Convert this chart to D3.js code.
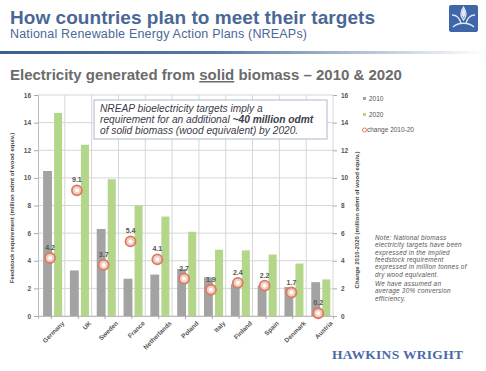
<!DOCTYPE html>
<html><head><meta charset="utf-8">
<script src="https://cdn.jsdelivr.net/npm/d3@7"></script>
<style>body{margin:0;background:#fff;}svg{display:block;font-family:"Liberation Sans",Arial,sans-serif;}</style>
</head><body>
<svg id="c" width="486" height="371"></svg>
<script>
const countries = ["Germany","UK","Sweden","France","Netherlands","Poland","Italy","Finland","Spain","Denmark","Austria"];
const values2010 = [10.5,3.3,6.3,2.7,3.0,3.4,2.8,2.3,2.2,2.1,2.45];
const values2020 = [14.7,12.4,9.9,8.0,7.2,6.1,4.8,4.75,4.45,3.8,2.65];
const change = [4.2,9.1,3.7,5.4,4.1,2.7,1.9,2.4,2.2,1.7,0.2];
const yTicks = [0,2,4,6,8,10,12,14,16];

const svg = d3.select("#c");
const x = d3.scaleBand().domain(countries).range([38,333]).padding(0);
const y = d3.scaleLinear().domain([0,16]).range([316,95]);
const y2 = d3.scaleLinear().domain([0,16]).range([316,95]);

// header
svg.append("text").attr("x",10).attr("y",24).attr("font-size",19).attr("font-weight","bold")
  .attr("fill","#4a6796").attr("textLength",365).text("How countries plan to meet their targets");
svg.append("text").attr("x",10).attr("y",38).attr("font-size",12.5)
  .attr("fill","#4a6796").attr("textLength",297).text("National Renewable Energy Action Plans (NREAPs)");
const defs = svg.append("defs");
const lg = defs.append("linearGradient").attr("id","rule");
lg.append("stop").attr("offset","0%").attr("stop-color","#3b5f90");
lg.append("stop").attr("offset","45%").attr("stop-color","#5a7aa5");
lg.append("stop").attr("offset","100%").attr("stop-color","#ffffff");
svg.append("rect").attr("x",0).attr("y",51).attr("width",486).attr("height",3).attr("fill","url(#rule)");

// logo
const logo = svg.append("g").attr("transform","translate(449,5)");
logo.append("rect").attr("width",29).attr("height",27).attr("rx",2).attr("fill","#3f66a8");
logo.append("path").attr("d","M14.5,2 C11,7 11,11 14.5,15 C18,11 18,7 14.5,2 Z M3,10 C8,10 11,14 12,19 M26,10 C21,10 18,14 17,19 M4,22 C9,17 20,17 25,22")
  .attr("fill","none").attr("stroke","#dfe8f5").attr("stroke-width",1.3);
logo.append("path").attr("d","M14.5,3 C12,7 12,10 14.5,13 C17,10 17,7 14.5,3 Z").attr("fill","#dfe8f5");

// chart title
const ct = svg.append("text").attr("x",10).attr("y",80).attr("font-size",15).attr("font-weight","bold").attr("fill","#6b6b6b");
ct.append("tspan").text("Electricity generated from ");
ct.append("tspan").attr("text-decoration","underline").text("solid");
ct.append("tspan").text(" biomass \u2013 2010 & 2020");

// grid
const g = svg.append("g");
g.selectAll("line.h").data(yTicks).join("line")
  .attr("x1",38).attr("x2",333).attr("y1",d=>y(d)).attr("y2",d=>y(d))
  .attr("stroke","#d6d6d6").attr("stroke-width",1);
g.selectAll("line.v").data(countries).join("line")
  .attr("x1",d=>x(d)+x.bandwidth()).attr("x2",d=>x(d)+x.bandwidth())
  .attr("y1",y(16)).attr("y2",y(0)).attr("stroke","#d6d6d6");

// bars
const bw = x.bandwidth();
svg.append("g").selectAll("rect").data(countries).join("rect")
  .attr("x",d=>x(d)+bw*0.19).attr("width",bw*0.33)
  .attr("y",(d,i)=>y(values2010[i])).attr("height",(d,i)=>y(0)-y(values2010[i]))
  .attr("fill","#a3a3a3");
svg.append("g").selectAll("rect").data(countries).join("rect")
  .attr("x",d=>x(d)+bw*0.6).attr("width",bw*0.3)
  .attr("y",(d,i)=>y(values2020[i])).attr("height",(d,i)=>y(0)-y(values2020[i]))
  .attr("fill","#b4d68a");

// axes
const yAxisL = d3.axisLeft(y).tickValues(yTicks).tickSize(4).tickFormat(d3.format("d"));
const aL = svg.append("g").attr("transform","translate(38,0)").call(yAxisL);
aL.select(".domain").attr("stroke","#bbb");
aL.selectAll(".tick line").attr("stroke","#aaa");
aL.selectAll("text").attr("font-size",6.5).attr("font-weight","bold").attr("fill","#555");
const yAxisR = d3.axisRight(y2).tickValues(yTicks).tickSize(4).tickFormat(d3.format("d"));
const aR = svg.append("g").attr("transform","translate(333,0)").call(yAxisR);
aR.select(".domain").attr("stroke","none");
aR.selectAll(".tick line").attr("stroke","#aaa");
aR.selectAll("text").attr("font-size",6.5).attr("font-weight","bold").attr("fill","#555").attr("x",8);

const xAxis = d3.axisBottom(x).tickSize(3);
const aX = svg.append("g").attr("transform","translate(0,316)").call(xAxis);
aX.select(".domain").attr("stroke","#bbb");
aX.selectAll(".tick line").attr("stroke","#aaa");
aX.selectAll("text").attr("font-size",6.4).attr("font-weight","bold").attr("fill","#555")
  .attr("text-anchor","end").attr("dy",0).attr("y",15).attr("x",4)
  .attr("transform","rotate(-45)");

// axis titles
svg.append("text").attr("transform","translate(14,208) rotate(-90)").attr("text-anchor","middle")
  .attr("font-size",6).attr("font-weight","bold").attr("fill","#444")
  .text("Feedstock requirement (million odmt of wood equiv.)");
svg.append("text").attr("transform","translate(359,220) rotate(-90)").attr("text-anchor","middle")
  .attr("font-size",6).attr("font-weight","bold").attr("fill","#444")
  .text("Change 2010-2020 (million odmt of wood equiv.)");

// change markers
const cm = svg.append("g");
cm.selectAll("circle.o").data(countries).join("circle")
  .attr("cx",d=>x(d)+bw*0.45).attr("cy",(d,i)=>y2(change[i])).attr("r",5)
  .attr("fill","#f3cfc2").attr("stroke","#dc7b62").attr("stroke-width",1.8);
cm.selectAll("circle.i").data(countries).join("circle")
  .attr("cx",d=>x(d)+bw*0.45).attr("cy",(d,i)=>y2(change[i])).attr("r",2)
  .attr("fill","#ffffff");
cm.selectAll("text").data(countries).join("text")
  .attr("x",d=>x(d)+bw*0.45).attr("y",(d,i)=>y2(change[i])-8).attr("text-anchor","middle")
  .attr("font-size",7).attr("font-weight","bold").attr("fill","#555")
  .text((d,i)=>d3.format(".1f")(change[i]));

// annotation box
svg.append("rect").attr("x",94).attr("y",100).attr("width",233).attr("height",39)
  .attr("fill","#fff").attr("stroke","#a9b8d0").attr("stroke-width",1);
const boxLines = [
  [{t:"NREAP bioelectricity targets imply a"}],
  [{t:"requirement for an additional "},{t:"~40 million odmt",b:true}],
  [{t:"of solid biomass (wood equivalent) by 2020."}]
];
boxLines.forEach((ln,i)=>{
  const t = svg.append("text").attr("x",100).attr("y",112+i*11).attr("font-size",10.2)
    .attr("font-style","italic").attr("fill","#3c3c4a");
  ln.forEach(p=>t.append("tspan").attr("font-weight",p.b?"bold":"normal").text(p.t));
});

// legend
const legendItems = ["2010","2020","change 2010-20"];
const lgG = svg.append("g").attr("transform","translate(363,0)");
lgG.append("rect").attr("x",0).attr("y",97).attr("width",3).attr("height",3).attr("fill","#a3a3a3");
lgG.append("rect").attr("x",0).attr("y",113).attr("width",3).attr("height",3).attr("fill","#b4d68a");
lgG.append("circle").attr("cx",1.5).attr("cy",130).attr("r",2).attr("fill","none").attr("stroke","#dc7b62").attr("stroke-width",1);
lgG.selectAll("text").data(legendItems).join("text")
  .attr("x",(d,i)=>i===2?4:6).attr("y",(d,i)=>[101,117,132][i]).attr("font-size",6.5).attr("fill","#555")
  .text(d=>d);

// note
const noteLines = ["Note: National biomass","electricity targets have been","expressed in the implied","feedstock requirement","expressed in million tonnes of","dry wood equivalent."];
const noteLines2 = ["We have assumed an","average 30% conversion","efficiency."];
svg.append("g").selectAll("text").data(noteLines).join("text")
  .attr("x",375).attr("y",(d,i)=>240+i*7.3).attr("font-size",6.4).attr("font-style","italic")
  .attr("letter-spacing",0.25).attr("fill","#555").text(d=>d);
svg.append("g").selectAll("text").data(noteLines2).join("text")
  .attr("x",375).attr("y",(d,i)=>286+i*7.3).attr("font-size",6.4).attr("font-style","italic")
  .attr("letter-spacing",0.25).attr("fill","#555").text(d=>d);

// brand
svg.append("text").attr("x",332).attr("y",359).attr("font-family","'Liberation Serif','DejaVu Serif',serif")
  .attr("font-size",13.5).attr("font-weight","bold").attr("fill","#4a69a8").attr("textLength",131)
  .text("HAWKINS WRIGHT");
</script>
</body></html>
